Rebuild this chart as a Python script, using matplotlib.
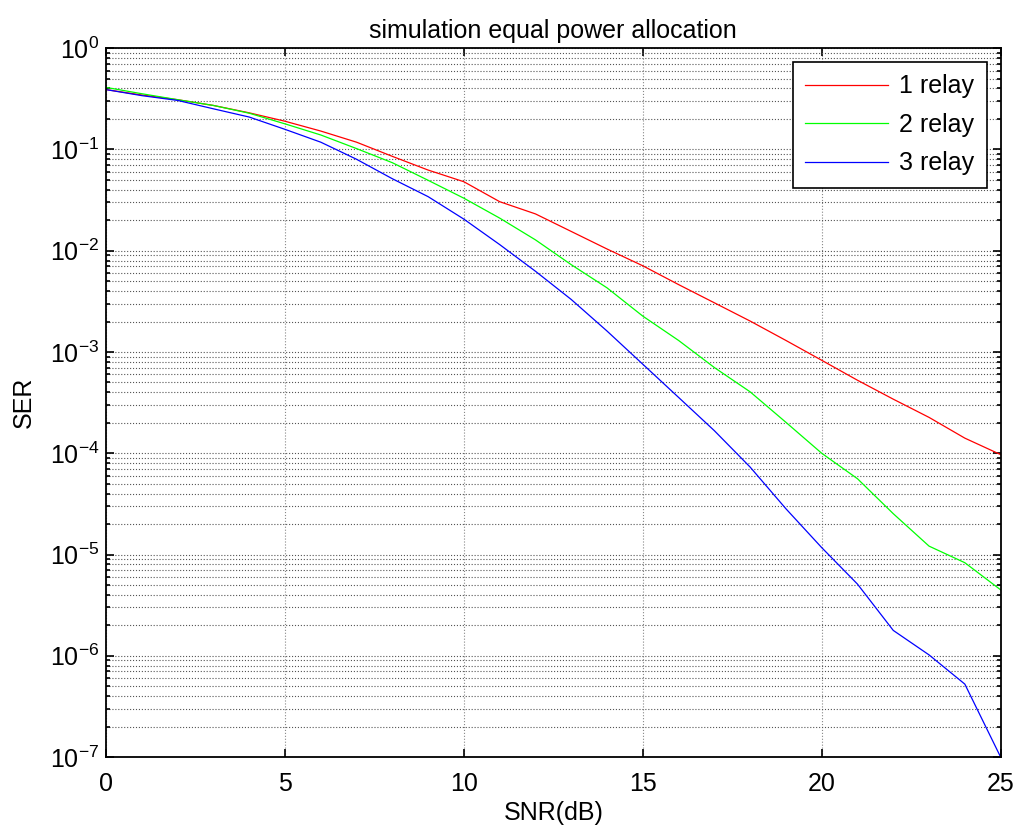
import numpy as np
import matplotlib
matplotlib.use('Agg')
import matplotlib.pyplot as plt
from matplotlib.ticker import LogLocator, FixedLocator, NullFormatter

plt.rcParams['font.family'] = ['Liberation Sans', 'DejaVu Sans']
plt.rcParams['mathtext.fontset'] = 'custom'
plt.rcParams['mathtext.rm'] = 'Liberation Sans'
plt.rcParams['mathtext.default'] = 'regular'

snr = list(range(0, 26))
ser_1relay = [0.39, 0.345, 0.31, 0.272, 0.23, 0.19, 0.152, 0.118, 0.0855, 0.0626, 0.048,
              0.0305, 0.0231, 0.0155, 0.0104, 0.0071, 0.00463, 0.00306, 0.00202, 0.0013,
              0.000828, 0.000526, 0.000342, 0.000226, 0.000141, 9.7e-5]
ser_2relay = [0.41, 0.355, 0.31, 0.272, 0.228, 0.179, 0.139, 0.102, 0.074, 0.0496, 0.033,
              0.021, 0.0128, 0.00728, 0.0043, 0.00226, 0.0013, 0.000702, 0.000404, 0.000202,
              1.0e-4, 5.6e-5, 2.53e-5, 1.21e-5, 8.3e-6, 4.48e-6]
ser_3relay = [0.39, 0.34, 0.305, 0.252, 0.209, 0.158, 0.118, 0.080, 0.0514, 0.0342, 0.0205,
              0.0115, 0.00627, 0.0033, 0.00161, 0.000757, 0.000356, 0.000167, 7.3e-5, 2.83e-5,
              1.17e-5, 5.1e-6, 1.78e-6, 1.02e-6, 5.25e-7, 1.0e-7]
labels = ['1 relay', '2 relay', '3 relay']

fig = plt.figure(figsize=(10.2, 8.31), dpi=100)
ax = fig.add_axes([0.104, 0.089, 0.877, 0.853])

ax.semilogy(snr, ser_1relay, color='#ff0000', lw=0.9, label=labels[0])
ax.semilogy(snr, ser_2relay, color='#00ff00', lw=0.9, label=labels[1])
ax.semilogy(snr, ser_3relay, color='#0000ff', lw=0.9, label=labels[2])

ax.set_xlim(0, 25)
ax.set_ylim(1e-7, 1e0)
ax.xaxis.set_major_locator(FixedLocator([0, 5, 10, 15, 20, 25]))
ax.yaxis.set_minor_locator(LogLocator(base=10, subs=np.arange(2, 10), numticks=100))
ax.yaxis.set_minor_formatter(NullFormatter())
ax.set_yticks([10.0 ** k for k in range(-7, 1)])
ax.set_yticklabels([r'$10^{%d}$' % k for k in range(-7, 1)])

ax.grid(True, which='major', axis='x', color='#888888', linestyle=':', lw=0.8)
ax.grid(True, which='both', axis='y', color='#555555', linestyle=':', lw=0.8)

ax.tick_params(which='both', direction='in', top=True, right=True, labelsize=18, width=1.2)
ax.tick_params(axis='x', pad=10.5)
ax.tick_params(axis='y', pad=5)
ax.tick_params(which='major', length=6)
ax.tick_params(which='minor', length=3)
for s in ax.spines.values():
    s.set_linewidth(1.3)

ax.set_title('simulation equal power allocation', fontsize=18, pad=7)
ax.set_xlabel('SNR(dB)', fontsize=18, labelpad=4)
ax.set_ylabel('SER', fontsize=18, labelpad=10)

leg = ax.legend(loc='upper right', fontsize=18, handlelength=3.3, handletextpad=0.45,
                labelspacing=0.58, borderaxespad=0.55, fancybox=False, framealpha=1,
                edgecolor='black', borderpad=0.5)
leg.get_frame().set_linewidth(1.2)

fig.savefig('out.png', dpi=100, facecolor='white')
